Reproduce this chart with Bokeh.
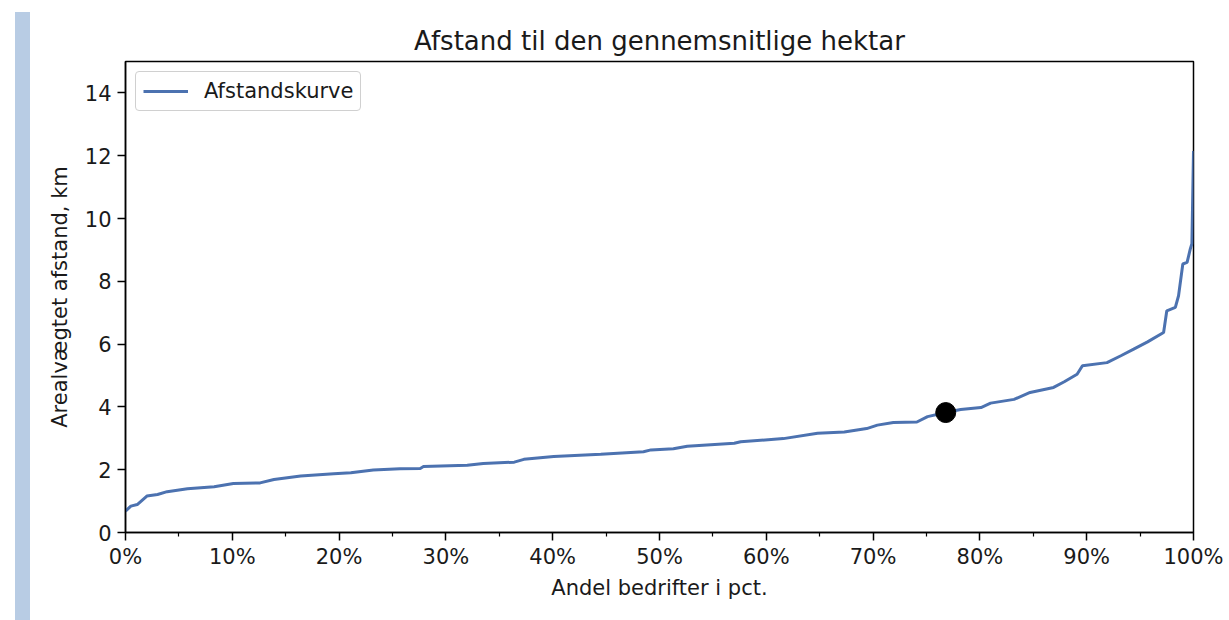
from bokeh.plotting import figure
from bokeh.models import Div, NumeralTickFormatter, FixedTicker, Range1d, Legend, LegendItem
from bokeh.layouts import row
from bokeh.embed import file_html
from bokeh.resources import INLINE

# Data (x as share of holdings in percent, y in km)
share_pct = [0, 0.5, 1.1, 2.0, 3.0, 3.9, 5.8, 8.3, 10.1, 12.6, 13.9, 16.4, 19.5, 21.1,
             23.2, 25.7, 27.6, 27.9, 32.0, 33.5, 36.4, 37.3, 40.1, 44.5, 48.5, 49.2,
             51.3, 52.6, 57.0, 57.6, 61.6, 64.8, 67.3, 69.4, 70.4, 71.9, 74.1, 75.1,
             76.8, 78.2, 80.1, 81.0, 83.2, 84.7, 86.9, 87.9, 89.1, 89.6, 91.9, 93.2,
             94.4, 95.7, 97.2, 97.5, 98.3, 98.6, 99.0, 99.4, 99.7, 99.85, 100]
distance_km = [0.68, 0.84, 0.89, 1.16, 1.21, 1.30, 1.39, 1.46, 1.56, 1.58, 1.69, 1.80,
               1.87, 1.90, 1.99, 2.03, 2.04, 2.10, 2.14, 2.20, 2.24, 2.33, 2.42, 2.49,
               2.57, 2.63, 2.67, 2.75, 2.84, 2.89, 2.99, 3.16, 3.20, 3.31, 3.42, 3.50,
               3.52, 3.69, 3.82, 3.92, 3.98, 4.12, 4.24, 4.46, 4.62, 4.80, 5.04, 5.31,
               5.41, 5.63, 5.84, 6.07, 6.37, 7.06, 7.17, 7.54, 8.55, 8.60, 9.03, 9.2, 12.15]
marker_pct = [76.8]
marker_km = [3.82]

x_ticks = [0, 0.1, 0.2, 0.3, 0.4, 0.5, 0.6, 0.7, 0.8, 0.9, 1.0]
x_minor = [0.05, 0.15, 0.25, 0.35, 0.45, 0.55, 0.65, 0.75, 0.85, 0.95]
y_ticks = [0, 2, 4, 6, 8, 10, 12, 14]

xs = [v / 100 for v in share_pct]
mx = [v / 100 for v in marker_pct]

FONT = "DejaVu Sans"
TXT = "#1a1a1a"

p = figure(width=1188, height=612, output_backend="svg", toolbar_location=None,
           x_range=Range1d(0, 1), y_range=Range1d(0, 15),
           min_border_left=90, min_border_right=30, min_border_top=61, min_border_bottom=80,
           title="Afstand til den gennemsnitlige hektar")
p.title.align = "center"
p.title.text_font = FONT
p.title.text_font_size = "26px"
p.title.text_font_style = "normal"
p.title.text_color = TXT
p.title.standoff = 11

p.grid.visible = False
p.outline_line_color = "black"
p.outline_line_width = 1.5
p.outline_line_alpha = 1

p.xaxis.ticker = FixedTicker(ticks=x_ticks, minor_ticks=x_minor)
p.xaxis.formatter = NumeralTickFormatter(format="0%")
p.yaxis.ticker = FixedTicker(ticks=y_ticks)
for ax in (p.xaxis[0], p.yaxis[0]):
    ax.major_label_text_font = FONT
    ax.major_label_text_font_size = "21px"
    ax.major_label_text_color = TXT
    ax.axis_label_text_font = FONT
    ax.axis_label_text_font_size = "21px"
    ax.axis_label_text_font_style = "normal"
    ax.axis_label_text_color = TXT
    ax.axis_line_color = "black"
    ax.axis_line_width = 1.5
    ax.major_tick_line_color = "black"
    ax.major_tick_line_width = 1.5
    ax.minor_tick_line_color = "black"
    ax.minor_tick_line_width = 1.2
    ax.major_tick_out = 8
    ax.major_tick_in = 0
    ax.minor_tick_out = 4
    ax.minor_tick_in = 0
p.yaxis.minor_tick_line_color = None
p.xaxis.axis_label = "Andel bedrifter i pct."
p.yaxis.axis_label = "Arealvægtet afstand, km"
p.xaxis.major_label_standoff = 4
p.yaxis.major_label_standoff = 6
p.xaxis.axis_label_standoff = 4
p.yaxis.axis_label_standoff = 10

line = p.line(xs, distance_km, line_color="#4c72b0", line_width=3)
p.scatter(mx, marker_km, size=20, color="black")

legend = Legend(items=[LegendItem(label="Afstandskurve", renderers=[line])],
                location="top_left")
legend.label_text_font = FONT
legend.label_text_font_size = "21px"
legend.label_text_color = TXT
legend.glyph_width = 45
legend.glyph_height = 24
legend.label_standoff = 16
legend.padding = 7
legend.margin = 10
legend.border_line_color = "#d0d0d0"
legend.border_line_width = 1.5
legend.border_line_alpha = 1
legend.background_fill_alpha = 0.8
legend.border_radius = 4
p.add_layout(legend)

bar = Div(text='<div style="margin-left:10px;margin-top:7px;width:15px;height:620px;'
               'background-color:#b8cce4"></div>',
          width=25, height=612)

layout = row(bar, p, spacing=0)

open("out.html", "w").write(file_html(layout, INLINE))
